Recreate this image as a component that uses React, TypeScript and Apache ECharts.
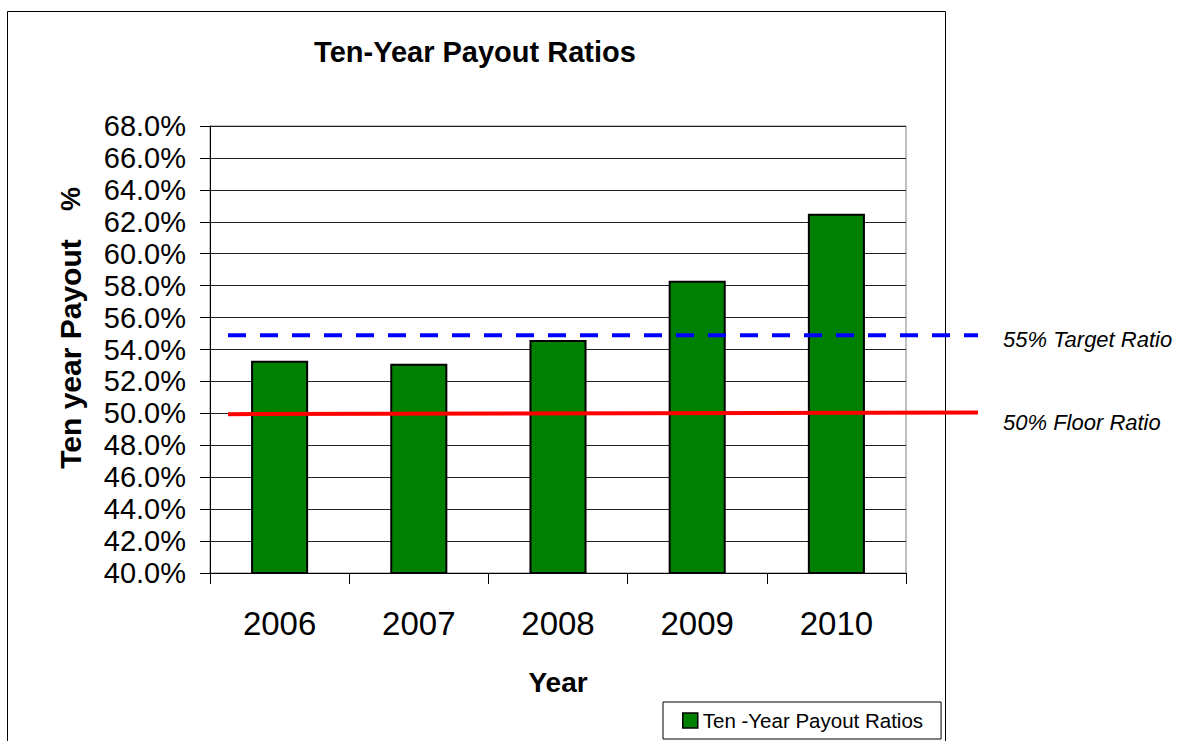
import React, { useEffect, useRef } from "react";
import * as echarts from "echarts";

const years = ["2006", "2007", "2008", "2009", "2010"];
const payoutRatios = [53.3, 53.1, 54.6, 58.3, 62.5];
const targetRatio = [54.9, 54.9];
const floorRatio = [49.95, 50.05];
const lineSpan = [0, 1];

const FONT = '"Liberation Sans", Arial, sans-serif';

export default function App() {
  const ref = useRef<HTMLDivElement>(null);
  useEffect(() => {
    if (!ref.current) return;
    const chart = echarts.init(ref.current, null, { renderer: "svg" });
    chart.setOption({
      animation: false,
      backgroundColor: "#fff",
      textStyle: { fontFamily: FONT },
      grid: [
        {
          left: 210,
          top: 126,
          width: 696,
          height: 447,
          show: true,
          borderColor: "#808080",
          borderWidth: 1,
          containLabel: false,
        },
        { left: 228, top: 126, width: 750, height: 447, containLabel: false },
      ],
      xAxis: [
        {
          type: "category",
          data: years,
          gridIndex: 0,
          boundaryGap: true,
          axisLine: { lineStyle: { color: "#000", width: 1 } },
          axisTick: { show: true, length: 11, alignWithLabel: false, lineStyle: { color: "#000" } },
          axisLabel: { fontSize: 33, color: "#000", margin: 34, fontFamily: FONT },
          name: "Year",
          nameLocation: "middle",
          nameGap: 95,
          nameTextStyle: { fontSize: 28, fontWeight: "bold", color: "#000", fontFamily: FONT },
        },
        { type: "value", gridIndex: 1, min: 0, max: 1, show: false },
      ],
      yAxis: [
        {
          type: "value",
          gridIndex: 0,
          min: 40,
          max: 68,
          interval: 2,
          axisLine: { show: true, lineStyle: { color: "#000", width: 1 } },
          axisTick: { show: true, length: 10, lineStyle: { color: "#000" } },
          axisLabel: {
            fontSize: 29,
            color: "#000",
            margin: 24,
            fontFamily: FONT,
            formatter: (v: number) => v.toFixed(1) + "%",
          },
          splitLine: { show: true, lineStyle: { color: "#222", width: 1 } },
        },
        { type: "value", gridIndex: 1, min: 40, max: 68, show: false },
      ],
      legend: {
        data: ["Ten -Year Payout Ratios"],
        left: 663,
        top: 702,
        padding: [8, 18, 8, 19],
        borderColor: "#000",
        borderWidth: 1,
        borderRadius: 0,
        itemWidth: 15,
        itemHeight: 15,
        icon: "rect",
        itemStyle: { borderColor: "#000", borderWidth: 1.5 },
        textStyle: { fontSize: 20.5, color: "#000", fontFamily: FONT },
      },
      series: [
        {
          name: "Ten -Year Payout Ratios",
          type: "bar",
          xAxisIndex: 0,
          yAxisIndex: 0,
          data: payoutRatios,
          barWidth: "41%",
          itemStyle: { color: "#008000", borderColor: "#000", borderWidth: 2 },
          z: 2,
        },
        {
          name: "55% Target Ratio",
          type: "line",
          xAxisIndex: 1,
          yAxisIndex: 1,
          data: lineSpan.map((x, i) => [x, targetRatio[i]]),
          symbol: "none",
          lineStyle: { color: "#0000FF", width: 4, type: [18, 14] },
          z: 3,
        },
        {
          name: "50% Floor Ratio",
          type: "line",
          xAxisIndex: 1,
          yAxisIndex: 1,
          data: lineSpan.map((x, i) => [x, floorRatio[i]]),
          symbol: "none",
          lineStyle: { color: "#FF0000", width: 4 },
          z: 3,
        },
      ],
      graphic: [
        {
          type: "rect",
          shape: { x: 7.5, y: 11.5, width: 938, height: 760 },
          style: { fill: "none", stroke: "#000", lineWidth: 1 },
          silent: true,
          z: 0,
        },
        {
          type: "text",
          x: 475,
          y: 52,
          style: {
            text: "Ten-Year Payout Ratios",
            font: `bold 29px ${FONT}`,
            fill: "#000",
            align: "center",
            verticalAlign: "middle",
          },
        },
        {
          type: "text",
          x: 70,
          y: 354,
          rotation: Math.PI / 2,
          style: {
            text: "Ten year Payout",
            font: `bold 30px ${FONT}`,
            fill: "#000",
            align: "center",
            verticalAlign: "middle",
          },
        },
        {
          type: "text",
          x: 71,
          y: 199,
          rotation: Math.PI / 2,
          style: {
            text: "%",
            font: `bold 27px ${FONT}`,
            fill: "#000",
            align: "center",
            verticalAlign: "middle",
          },
        },
        {
          type: "text",
          x: 1003,
          y: 339,
          style: {
            text: "55% Target Ratio",
            font: `italic 22px ${FONT}`,
            fill: "#000",
            align: "left",
            verticalAlign: "middle",
          },
        },
        {
          type: "text",
          x: 1003,
          y: 422,
          style: {
            text: "50% Floor Ratio",
            font: `italic 22px ${FONT}`,
            fill: "#000",
            align: "left",
            verticalAlign: "middle",
          },
        },
      ],
    });
    return () => chart.dispose();
  }, []);
  return (
    <div
      ref={ref}
      style={{ position: "absolute", left: 0, top: 0, width: 1182, height: 741 }}
    />
  );
}
